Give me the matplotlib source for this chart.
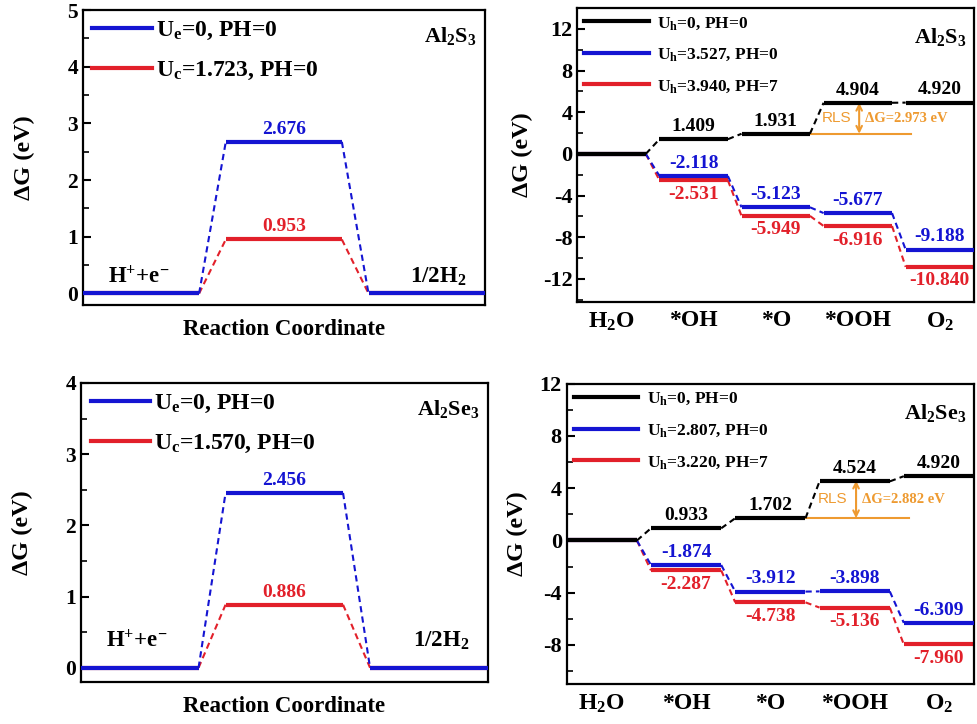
import matplotlib
matplotlib.use('Agg')
import matplotlib.pyplot as plt
from matplotlib.lines import Line2D
from matplotlib.ticker import MultipleLocator

# HER data (H+ + e- -> * H -> 1/2 H2)
her_s_blue = [0, 2.676, 0]
her_s_red = [0, 0.953, 0]
her_se_blue = [0, 2.456, 0]
her_se_red = [0, 0.886, 0]
her_s_labels = ['U$_e$=0, PH=0', 'U$_c$=1.723, PH=0']
her_se_labels = ['U$_e$=0, PH=0', 'U$_c$=1.570, PH=0']

# OER data
oer_steps = ['H$_2$O', '*OH', '*O', '*OOH', 'O$_2$']
oer_s_black = [0, 1.409, 1.931, 4.904, 4.920]
oer_s_blue = [0, -2.118, -5.123, -5.677, -9.188]
oer_s_red = [0, -2.531, -5.949, -6.916, -10.840]
oer_se_black = [0, 0.933, 1.702, 4.524, 4.920]
oer_se_blue = [0, -1.874, -3.912, -3.898, -6.309]
oer_se_red = [0, -2.287, -4.738, -5.136, -7.960]
oer_s_labels = ['U$_h$=0, PH=0', 'U$_h$=3.527, PH=0', 'U$_h$=3.940, PH=7']
oer_se_labels = ['U$_h$=0, PH=0', 'U$_h$=2.807, PH=0', 'U$_h$=3.220, PH=7']
rls_s = 2.973
rls_se = 2.882

BLUE = '#1414d2'
RED = '#e2202a'
BLACK = '#000000'
ORANGE = '#ee9a30'

plt.rcParams['font.family'] = ['Liberation Serif', 'DejaVu Serif']
plt.rcParams['font.weight'] = 'bold'
plt.rcParams['axes.labelweight'] = 'bold'
plt.rcParams['mathtext.default'] = 'regular'
plt.rcParams['axes.unicode_minus'] = False
plt.rcParams['axes.linewidth'] = 1.6


def draw_path(ax, vals, width, gap, color, z):
    starts = [i * (width + gap) for i in range(len(vals))]
    for i, v in enumerate(vals):
        ax.plot([starts[i], starts[i] + width], [v, v], color=color, lw=3,
                solid_capstyle='butt', zorder=z)
        if i > 0:
            ax.plot([starts[i - 1] + width, starts[i]], [vals[i - 1], v],
                    color=color, lw=1.5, ls=(0, (3, 2)), zorder=z)
    return starts


def style_axis(ax, major, minor, tsize, labx):
    ax.yaxis.set_major_locator(MultipleLocator(major))
    ax.yaxis.set_minor_locator(MultipleLocator(minor))
    ax.tick_params(axis='y', which='major', direction='in', length=6, width=1.5,
                   labelsize=tsize, right=False)
    ax.tick_params(axis='y', which='minor', direction='in', length=4, width=1.2,
                   right=False)
    ax.tick_params(axis='x', which='both', length=0)
    ax.set_ylabel('ΔG (eV)', fontsize=17.5)
    ax.yaxis.set_label_coords(labx, 0.5)


def her_panel(ax, blue, red, labels, name, ylim, ty, labx):
    w, g = 1.0, 0.23
    starts = draw_path(ax, red, w, g, RED, 2)
    draw_path(ax, blue, w, g, BLUE, 3)
    ax.set_xlim(0, 3 * w + 2 * g)
    ax.set_ylim(*ylim)
    ax.set_xticks([])
    style_axis(ax, 1, 0.5, 15.5, labx)
    ax.set_xlabel('Reaction Coordinate', fontsize=16.5, labelpad=10)
    cx = starts[1] + w / 2
    ax.annotate('%.3f' % blue[1], (cx, blue[1]), xytext=(0, 3), textcoords='offset points',
                ha='center', va='bottom', color=BLUE, fontsize=14)
    ax.annotate('%.3f' % red[1], (cx, red[1]), xytext=(0, 3), textcoords='offset points',
                ha='center', va='bottom', color=RED, fontsize=14)
    ax.text(0.062, ty, 'H$^{{+}}$+e$^{{-}}$', transform=ax.transAxes, fontsize=16.5,
            ha='left', va='baseline')
    ax.text(0.955, ty, '1/2H$_2$', transform=ax.transAxes, fontsize=16.5,
            ha='right', va='baseline')
    ax.text(0.98, 0.95, name, transform=ax.transAxes, fontsize=16,
            ha='right', va='top')
    handles = [Line2D([], [], color=BLUE, lw=3), Line2D([], [], color=RED, lw=3)]
    ax.legend(handles, labels, loc='upper left', frameon=False, fontsize=17,
              handlelength=2.5, handletextpad=0.2, labelspacing=0.75,
              borderaxespad=0.1, borderpad=0.3)


def oer_panel(ax, black, blue, red, labels, name, ylim, rls, labx):
    w, g = 1.0, 0.2
    draw_path(ax, red, w, g, RED, 2)
    draw_path(ax, blue, w, g, BLUE, 3)
    starts = draw_path(ax, black, w, g, BLACK, 4)
    ax.set_xlim(0, 5 * w + 4 * g)
    ax.set_ylim(*ylim)
    ax.set_xticks([s + w / 2 for s in starts])
    ax.set_xticklabels(oer_steps, fontsize=17)
    ax.tick_params(axis='x', pad=6)
    style_axis(ax, 4, 2, 16, labx)
    for i in range(1, 5):
        cx = starts[i] + w / 2
        ax.annotate('%.3f' % black[i], (cx, black[i]), xytext=(0, 3),
                    textcoords='offset points', ha='center', va='bottom',
                    color=BLACK, fontsize=14)
        ax.annotate('%.3f' % blue[i], (cx, blue[i]), xytext=(0, 3),
                    textcoords='offset points', ha='center', va='bottom',
                    color=BLUE, fontsize=14)
        ax.annotate('%.3f' % red[i], (cx, red[i]), xytext=(0, -4),
                    textcoords='offset points', ha='center', va='top',
                    color=RED, fontsize=14)
    # rate limiting step
    base = black[2]
    ax.plot([starts[2] + w, 4.88], [base, base], color=ORANGE, lw=1.5, zorder=1)
    ax.annotate('', xy=(4.12, base + rls), xytext=(4.12, base),
                arrowprops=dict(arrowstyle='<->', color=ORANGE, lw=1.5,
                                shrinkA=0, shrinkB=0, mutation_scale=10))
    ymid = base + rls / 2
    ax.text(3.57, ymid, 'RLS', color=ORANGE, fontsize=11, family='Liberation Sans',
            weight='normal', ha='left', va='center')
    ax.text(4.2, ymid, 'ΔG=%.3f eV' % rls, color=ORANGE, fontsize=10.5,
            ha='left', va='center')
    ax.text(0.982, 0.94, name, transform=ax.transAxes, fontsize=16,
            ha='right', va='top')
    handles = [Line2D([], [], color=c, lw=3) for c in (BLACK, BLUE, RED)]
    ax.legend(handles, labels, loc='upper left', frameon=False, fontsize=12.5,
              handlelength=3.7, handletextpad=0.5, labelspacing=0.85,
              borderaxespad=0.1, borderpad=0.3)


fig = plt.figure(figsize=(9.77, 7.24), dpi=100)
ax1 = fig.add_axes([0.085, 0.579, 0.411, 0.407])
ax2 = fig.add_axes([0.591, 0.583, 0.406, 0.406])
ax3 = fig.add_axes([0.083, 0.058, 0.416, 0.413])
ax4 = fig.add_axes([0.580, 0.055, 0.417, 0.415])

her_panel(ax1, her_s_blue, her_s_red, her_s_labels, 'Al$_2$S$_3$', (-0.2, 5), 0.075, -0.12)
oer_panel(ax2, oer_s_black, oer_s_blue, oer_s_red, oer_s_labels, 'Al$_2$S$_3$',
          (-14.2, 14), rls_s, -0.113)
her_panel(ax3, her_se_blue, her_se_red, her_se_labels, 'Al$_2$Se$_3$', (-0.2, 4), 0.117, -0.118)
oer_panel(ax4, oer_se_black, oer_se_blue, oer_se_red, oer_se_labels, 'Al$_2$Se$_3$',
          (-11, 12), rls_se, -0.096)

fig.savefig('out.png', dpi=100)
